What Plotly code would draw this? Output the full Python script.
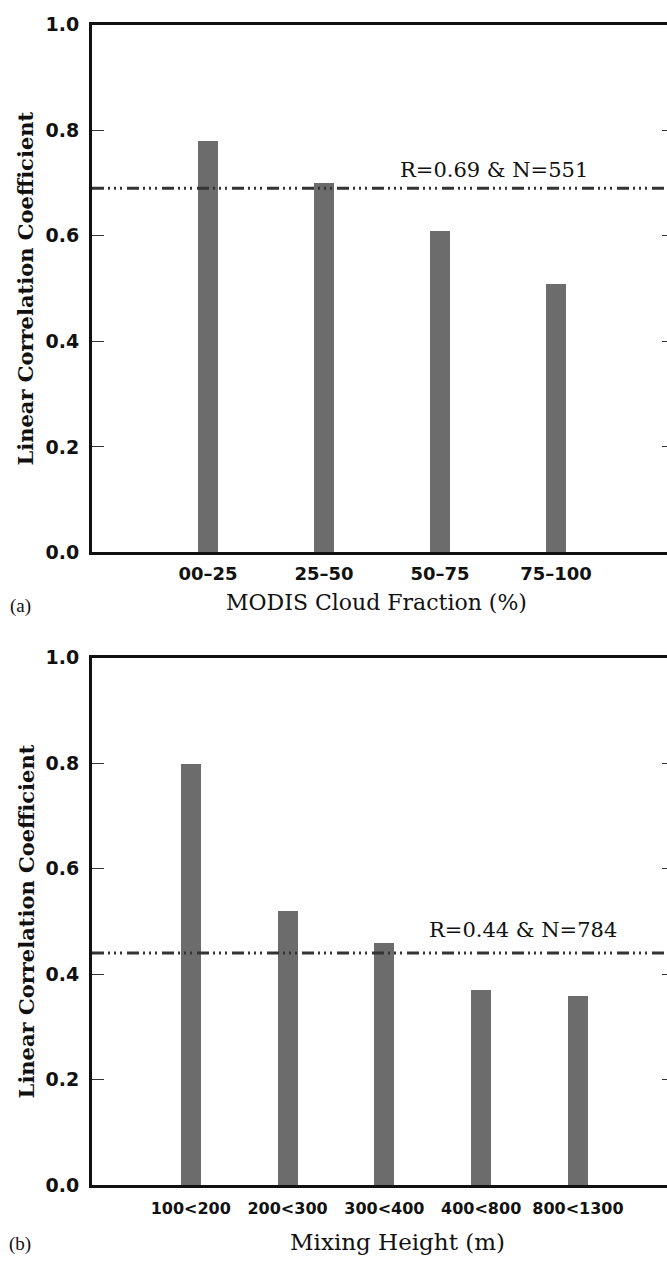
import plotly.graph_objects as go

# ---------------- data ----------------
cloud_cats = ["00–25", "25–50", "50–75", "75–100"]
cloud_r = [0.78, 0.70, 0.61, 0.51]
cloud_R, cloud_N = 0.69, 551

mix_cats = ["100<200", "200<300", "300<400", "400<800", "800<1300"]
mix_r = [0.80, 0.52, 0.46, 0.37, 0.36]
mix_R, mix_N = 0.44, 784

y_ticks = [0.0, 0.2, 0.4, 0.6, 0.8, 1.0]

# ---------------- layout helpers ----------------
W, H = 667, 1265
def px(x):
    return x / W
def py(y):
    return 1 - y / H

BAR_COLOR = "#6c6c6c"
LINE_COLOR = "#111111"
REF_COLOR = "#333333"
DASH = "12px,4px,2px,4px,2px,4px,2px,5px"
SERIF = "DejaVu Serif"
YTICK_FONT = dict(family="DejaVu Sans", size=19, color="#111111", weight="bold")
XTICK_FONT_A = dict(family="DejaVu Sans", size=18, color="#111111", weight="bold")
XTICK_FONT_B = dict(family="DejaVu Sans", size=16, color="#111111", weight="bold")

fig = go.Figure()

fig.add_trace(go.Bar(x=cloud_cats, y=cloud_r, xaxis="x", yaxis="y",
                     marker=dict(color=BAR_COLOR, line=dict(width=0)),
                     width=0.175, showlegend=False, hoverinfo="x+y"))
fig.add_trace(go.Bar(x=mix_cats, y=mix_r, xaxis="x2", yaxis="y2",
                     marker=dict(color=BAR_COLOR, line=dict(width=0)),
                     width=0.207, showlegend=False, hoverinfo="x+y"))
# invisible traces carrying the right-hand mirrored tick axes
fig.add_trace(go.Scatter(x=cloud_cats, y=cloud_r, xaxis="x", yaxis="y3",
                         mode="markers", marker=dict(opacity=0),
                         showlegend=False, hoverinfo="skip"))
fig.add_trace(go.Scatter(x=mix_cats, y=mix_r, xaxis="x2", yaxis="y4",
                         mode="markers", marker=dict(opacity=0),
                         showlegend=False, hoverinfo="skip"))

xdom = [px(92), 1.0]
ydom_a = [py(551), py(14)]
ydom_b = [py(1195), py(658)]

common_x = dict(showgrid=False, zeroline=False, showline=True, mirror=True,
                linecolor=LINE_COLOR, linewidth=3, ticks="", type="category")
common_y = dict(showgrid=False, zeroline=False, showline=True,
                linecolor=LINE_COLOR, linewidth=3, ticks="inside", ticklen=12,
                tickwidth=1, tickcolor="#333333", tickvals=y_ticks,
                tickformat=".1f", tickfont=YTICK_FONT, range=[0, 1.0],
                ticklabelstandoff=6)
right_y = dict(showgrid=False, zeroline=False, showline=False, side="right",
               ticks="inside", ticklen=5, tickwidth=1, tickcolor="#333333",
               tickvals=y_ticks, showticklabels=False, range=[0, 1.0])

fig.update_layout(
    width=W, height=H,
    margin=dict(l=0, r=0, t=0, b=0),
    paper_bgcolor="white", plot_bgcolor="white",
    bargap=0,
    xaxis=dict(common_x, domain=xdom, anchor="y", tickfont=XTICK_FONT_A,
               range=[-1, (667 - 208) / 116], ticklabelstandoff=3),
    yaxis=dict(common_y, domain=ydom_a, anchor="x"),
    xaxis2=dict(common_x, domain=xdom, anchor="y2", tickfont=XTICK_FONT_B,
                range=[-1.02, (667 - 191) / 96.75], ticklabelstandoff=7),
    yaxis2=dict(common_y, domain=ydom_b, anchor="x2"),
    yaxis3=dict(right_y, overlaying="y", anchor="x"),
    yaxis4=dict(right_y, overlaying="y2", anchor="x2"),
)

# reference correlation lines
for xr, yr, val in [("x domain", "y", cloud_R), ("x2 domain", "y2", mix_R)]:
    fig.add_shape(type="line", xref=xr, yref=yr, x0=0, x1=1, y0=val, y1=val,
                  line=dict(color=REF_COLOR, width=3, dash=DASH), layer="above")

ann = dict(showarrow=False, xanchor="center", yanchor="middle")

# reference-line labels
fig.add_annotation(text=f"R={cloud_R:.2f} & N={cloud_N}", xref="paper", yref="y",
                   x=px(494), y=cloud_R, yshift=18,
                   font=dict(family=SERIF, size=21, color="#111111"), **ann)
fig.add_annotation(text=f"R={mix_R:.2f} & N={mix_N}", xref="paper", yref="y2",
                   x=px(523), y=mix_R, yshift=23,
                   font=dict(family=SERIF, size=21, color="#111111"), **ann)

# axis titles
ytitle_font = dict(family=SERIF, size=21, color="#111111", weight="bold")
for ymid in [(14 + 551) / 2, (658 + 1195) / 2]:
    fig.add_annotation(text="Linear Correlation Coefficient", textangle=-90,
                       xref="paper", yref="paper", x=px(26), y=py(ymid),
                       font=ytitle_font, **ann)
fig.add_annotation(text="MODIS Cloud Fraction (%)", xref="paper", yref="paper",
                   x=px(376), y=py(602),
                   font=dict(family=SERIF, size=22, color="#111111"), **ann)
fig.add_annotation(text="Mixing Height (m)", xref="paper", yref="paper",
                   x=px(398), y=py(1253),
                   font=dict(family=SERIF, size=23, color="#111111"), **ann)

# panel letters
panel_font = dict(family="Liberation Serif", size=19, color="#111111")
fig.add_annotation(text="(a)", xref="paper", yref="paper", x=px(20), y=py(606),
                   font=panel_font, **ann)
fig.add_annotation(text="(b)", xref="paper", yref="paper", x=px(20), y=py(1255),
                   font=panel_font, **ann)

fig.write_html(
    "out.html",
    config={"displayModeBar": False},
    post_script=("document.documentElement.style.margin='0';"
                 "document.documentElement.style.overflow='hidden';"
                 "document.body.style.margin='0';"
                 "document.body.style.padding='0';"
                 "document.body.style.overflow='hidden';"
                 "var gd=document.getElementById('{plot_id}');"
                 "gd.style.position='fixed';gd.style.top='0px';gd.style.left='0px';"),
)
